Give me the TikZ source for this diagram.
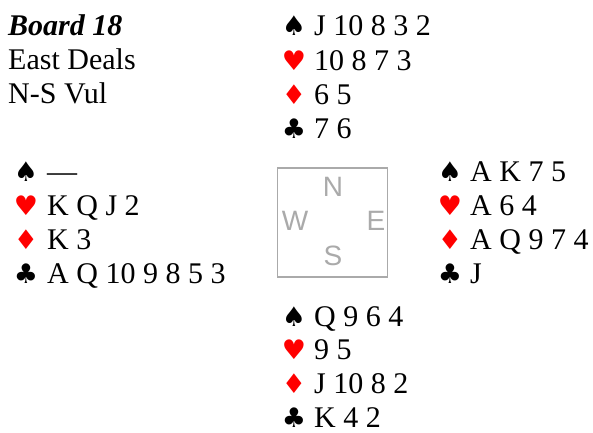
\documentclass[tikz,border=0pt]{standalone}
\usepackage{fontspec}
\setmainfont{Liberation Serif}
\newfontfamily\suitfont{DejaVu Sans}
\newfontfamily\compassfont{Liberation Sans}
\definecolor{suitred}{RGB}{255,0,0}
\definecolor{compassgray}{RGB}{170,170,170}
\begin{document}
\begin{tikzpicture}[x=1pt,y=-1pt,
  txt/.style={anchor=base west, inner sep=0pt, font=\fontsize{30}{34}\selectfont},
  hdr/.style={anchor=base west, inner sep=0pt, font=\fontsize{30}{34}\selectfont},
  suit/.style={anchor=base, inner sep=0pt, font=\suitfont\fontsize{27}{30}\selectfont},
  blk/.style={suit, text=black},
  rd/.style={suit, text=suitred},
  compass/.style={draw=compassgray, line width=1.6pt, minimum width=110pt, minimum height=109pt, inner sep=0pt},
  dir/.style={anchor=center, inner sep=0pt, text=compassgray, font=\compassfont\fontsize{28}{30}\selectfont}]
\useasboundingbox (0,0) rectangle (593,432);
% header
\node[hdr, font=\fontsize{30}{34}\selectfont\bfseries\itshape] (board) at (8,35) {Board 18};
\node[hdr] (dealer) at (8,69) {East Deals};
\node[hdr] (vul) at (8,103) {N-S Vul};
% North
\node[blk] (ns) at (294,35) {♠};  \node[txt] (nst) at (314,35) {J 10 8 3 2};
\node[rd]  (nh) at (294,70) {♥};  \node[txt] (nht) at (314,70) {10 8 7 3};
\node[rd]  (nd) at (294,104) {♦}; \node[txt] (ndt) at (314,104) {6 5};
\node[blk] (nc) at (294,138) {♣}; \node[txt] (nct) at (314,138) {7 6};
% West
\node[blk] (ws) at (26,181) {♠};  \node[txt] (wst) at (47,181) {—};
\node[rd]  (wh) at (26,215) {♥};  \node[txt] (wht) at (47,215) {K Q J 2};
\node[rd]  (wd) at (26,249) {♦};  \node[txt] (wdt) at (47,249) {K 3};
\node[blk] (wc) at (26,283) {♣};  \node[txt] (wct) at (47,283) {A Q 10 9 8 5 3};
% East
\node[blk] (es) at (450,181) {♠}; \node[txt] (est) at (470,181) {A K 7 5};
\node[rd]  (eh) at (450,215) {♥}; \node[txt] (eht) at (470,215) {A 6 4};
\node[rd]  (ed) at (450,249) {♦}; \node[txt] (edt) at (470,249) {A Q 9 7 4};
\node[blk] (ec) at (450,283) {♣}; \node[txt] (ect) at (470,283) {J};
% South
\node[blk] (ss) at (294,326) {♠}; \node[txt] (sst) at (314,326) {Q 9 6 4};
\node[rd]  (sh) at (294,359) {♥}; \node[txt] (sht) at (314,359) {9 5};
\node[rd]  (sd) at (294,393) {♦}; \node[txt] (sdt) at (314,393) {J 10 8 2};
\node[blk] (sc) at (294,427) {♣}; \node[txt] (sct) at (314,427) {K 4 2};
% compass
\node[compass] (box) at (332.5,222.5) {};
\node[dir] (cn) at (333,187) {N};
\node[dir] (cw) at (295,221) {W};
\node[dir] (ce) at (376,221) {E};
\node[dir] (cs) at (333,256) {S};
\end{tikzpicture}
\end{document}
